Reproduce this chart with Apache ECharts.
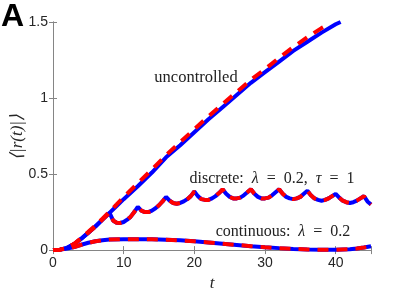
<!DOCTYPE html>
<html><head><meta charset="utf-8">
<script src="https://cdn.jsdelivr.net/npm/echarts@6/dist/echarts.min.js"></script>
<style>html,body{margin:0;padding:0;background:#fff}#c{width:409px;height:297px}</style>
</head><body><div id="c"></div>
<script>
// time points and values
const uncontrolledT   = [0,1,2,3,4,5,6,7,8,9,10,12,14,16,18,20,22,24,26,28,30,32,34,36,38,40,40.7];
const uncontrolledSim = [0,0.003,0.015,0.04,0.075,0.115,0.155,0.2,0.245,0.29,0.335,0.42,0.51,0.61,0.69,0.775,0.86,0.94,1.02,1.10,1.17,1.24,1.31,1.37,1.43,1.485,1.5];
const uncontrolledThT = [0,1,2,3,4,5,6,7,8,9,10,12,14,16,18,20,22,24,26,28,30,32,34,36,38,38.8];
const uncontrolledTh  = [0,0.003,0.016,0.042,0.08,0.12,0.162,0.207,0.253,0.3,0.348,0.44,0.53,0.625,0.71,0.795,0.88,0.96,1.04,1.12,1.19,1.265,1.335,1.40,1.46,1.48];

const discreteT = [0,1,2,3,4,5,6,7,8,8.5,9,9.5,10,10.5,11,11.5,12,12.5,13,13.5,14,14.5,15,15.5,16,16.5,17,17.5,18,18.5,19,19.5,20,20.5,21,21.5,22,22.5,23,23.5,24,24.5,25,25.5,26,26.5,27,27.5,28,28.5,29,29.5,30,30.5,31,31.5,32,32.5,33,33.5,34,34.5,35,35.5,36,36.5,37,37.5,38,38.5,39,39.5,40,40.5,41,41.5,42,42.5,43,43.5,44,44.5,45];
const discreteV = [0,0.003,0.015,0.04,0.075,0.115,0.155,0.2,0.245,0.195,0.18,0.178,0.185,0.2,0.22,0.25,0.285,0.26,0.25,0.25,0.26,0.275,0.295,0.32,0.35,0.325,0.31,0.305,0.31,0.32,0.335,0.355,0.385,0.355,0.335,0.33,0.33,0.34,0.355,0.375,0.40,0.37,0.35,0.34,0.34,0.345,0.36,0.38,0.40,0.37,0.35,0.34,0.34,0.345,0.36,0.38,0.40,0.37,0.35,0.34,0.335,0.34,0.35,0.37,0.39,0.36,0.34,0.33,0.325,0.33,0.34,0.355,0.37,0.345,0.325,0.315,0.31,0.315,0.325,0.34,0.355,0.32,0.30];

const continuousT = [0,1,2,3,4,5,6,7,8,10,12,14,16,18,20,22,24,26,28,30,32,34,36,38,40,42,43,44,45];
const continuousV = [0,0.003,0.01,0.02,0.035,0.048,0.058,0.065,0.069,0.072,0.072,0.071,0.068,0.064,0.058,0.05,0.042,0.034,0.026,0.019,0.013,0.008,0.004,0.002,0.002,0.006,0.01,0.017,0.025];

const xTicks = [0,10,20,30,40];
const yTicks = [0,0.5,1,1.5];

const zip = (a,b) => a.map((t,i)=>[t,b[i]]);
const BLUE = '#0000ff', RED = '#ff0000', AX = '#858585';

function solid(data){return {type:'line',data,showSymbol:false,symbol:'none',lineStyle:{color:BLUE,width:4},itemStyle:{color:BLUE},animation:false,z:2};}
function dashed(data){return {type:'line',data,showSymbol:false,symbol:'none',lineStyle:{color:RED,width:4,type:[11,8]},itemStyle:{color:RED},animation:false,z:3};}

const chart = echarts.init(document.getElementById('c'),null,{renderer:'canvas'});
const tickFont = {fontFamily:'Liberation Sans, Arial, sans-serif',fontSize:14,color:'#262626'};
const serif = 'Liberation Serif, Times New Roman, serif';
const rich = {n:{font:'16px '+serif,fill:'#222'},i:{font:'italic 16px '+serif,fill:'#222'}};
chart.setOption({
  animation:false,
  grid:{left:53,right:38,top:22,bottom:45,containLabel:false},
  xAxis:[{type:'value',min:0,max:45,interval:10,
    axisLine:{show:true,lineStyle:{color:AX,width:1}},
    axisTick:{show:true,inside:true,length:4,lineStyle:{color:AX}},
    axisLabel:Object.assign({margin:6,formatter:v=>xTicks.includes(v)?String(v):''},tickFont),
    splitLine:{show:false},
    name:'t',nameLocation:'middle',nameGap:24,
    nameTextStyle:{fontFamily:serif,fontStyle:'italic',fontSize:17,color:'#262626'}},
   {type:'value',position:'top',min:0,max:45,interval:10,
    axisLine:{show:true,lineStyle:{color:AX,width:1}},
    axisTick:{show:true,inside:true,length:4,lineStyle:{color:AX}},
    axisLabel:{show:false},splitLine:{show:false}}],
  yAxis:[{type:'value',min:0,max:1.5,interval:0.5,
    axisLine:{show:true,lineStyle:{color:AX,width:1}},
    axisTick:{show:true,inside:true,length:4,lineStyle:{color:AX}},
    axisLabel:Object.assign({margin:5,formatter:v=>yTicks.includes(v)?String(v):''},tickFont),
    splitLine:{show:false}},
   {type:'value',position:'right',min:0,max:1.5,interval:0.5,
    axisLine:{show:true,lineStyle:{color:AX,width:1}},
    axisTick:{show:true,inside:true,length:4,lineStyle:{color:AX}},
    axisLabel:{show:false},splitLine:{show:false}}],
  series:[
    solid(zip(uncontrolledT,uncontrolledSim)),
    dashed(zip(uncontrolledThT,uncontrolledTh)),
    solid(zip(discreteT,discreteV)),
    dashed(zip(discreteT,discreteV)),
    solid(zip(continuousT,continuousV)),
    dashed(zip(continuousT,continuousV))
  ],
  graphic:[
    {type:'text',left:1,top:1,style:{text:'A',font:'bold 32px Liberation Sans, Arial, sans-serif',fill:'#000'}},
    {type:'text',x:18,y:137,rotation:Math.PI/2,style:{text:'⟨|r(t)|⟩',font:'italic 17px '+serif,fill:'#262626',align:'center',verticalAlign:'middle'}},
    {type:'text',x:196,y:78,style:{text:'uncontrolled',font:'16.5px '+serif,fill:'#222',align:'center',verticalAlign:'middle'}},
    {type:'text',x:272,y:179,style:{rich,text:'{n|discrete:  }{i|λ}{n|  =  0.2,  }{i|τ}{n|  =  1}',align:'center',verticalAlign:'middle'}},
    {type:'text',x:283,y:232,style:{rich,text:'{n|continuous:  }{i|λ}{n|  =  0.2}',align:'center',verticalAlign:'middle'}}
  ]
});
</script></body></html>
